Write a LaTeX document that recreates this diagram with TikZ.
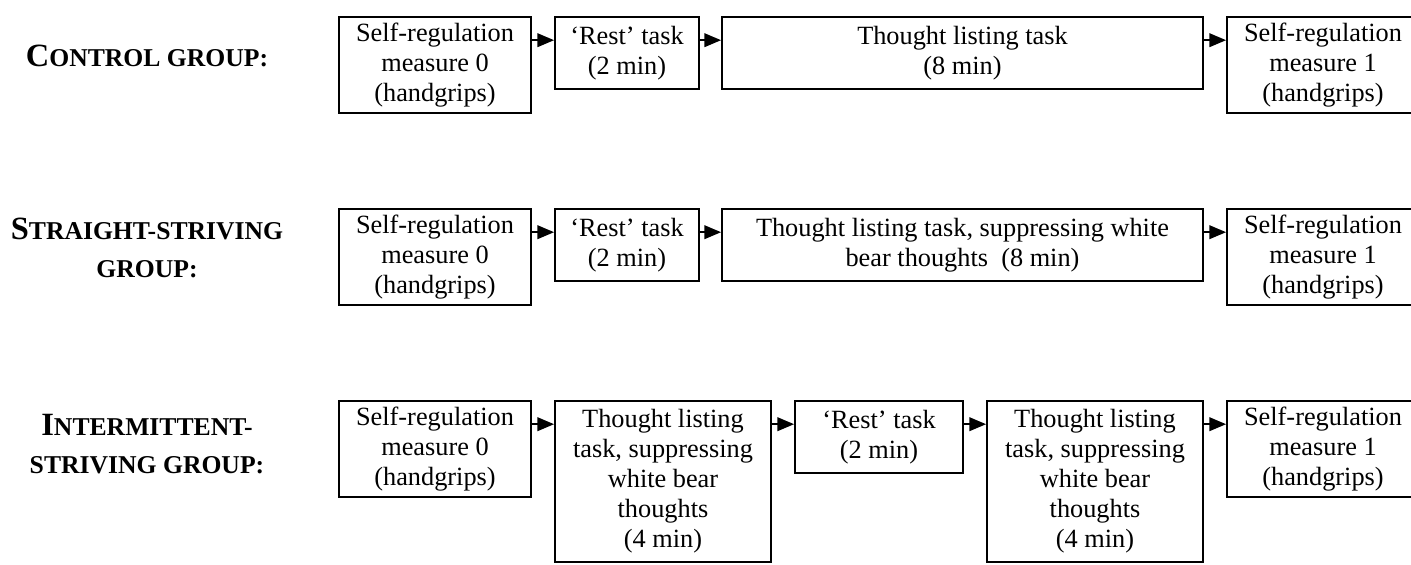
\documentclass[tikz,border=0pt]{standalone}
\usepackage{fontspec}
\setmainfont{Liberation Serif}
\usetikzlibrary{arrows.meta}
\newcommand{\lc}[1]{{\fontsize{14.8}{17.3}\selectfont #1}}
\newcommand{\bx}[6]{\node[box,minimum width={(#4-#2)*0.456pt},minimum height={(#5-#3)*0.456pt}] (#1) at ({(#2+#4)/2},{(#3+#5)/2}) {#6};}
\begin{document}
\begin{tikzpicture}[x=0.456pt,y=-0.456pt,
  box/.style={draw,line width=0.85pt,rectangle,inner sep=0pt,align=center,font=\fontsize{12}{13.7}\selectfont},
  grp/.style={inner sep=0pt,align=center,font=\fontsize{11.7}{17.3}\selectfont\bfseries},
  arr/.style={line width=0.85pt,-{Triangle[length=7.6pt,width=6.2pt]}}]
\useasboundingbox (0,0) rectangle (1411,564);
% labels
\node[grp] (l1) at (147,55.5) {\lc{C}ONTROL GROUP:};
\node[grp] (l2) at (147,247.5) {\lc{S}TRAIGHT-STRIVING\\GROUP:};
\node[grp] (l3) at (147,444.5) {\lc{I}NTERMITTENT-\\STRIVING GROUP:};
% row 1
\bx{a1}{339}{17}{531}{113}{Self-regulation\\measure 0\\(handgrips)}
\bx{b1}{555}{17}{699}{89}{‘Rest’ task\\(2 min)}
\bx{c1}{722}{17}{1203}{89}{Thought listing task\\(8 min)}
\bx{d1}{1227}{17}{1419}{113}{Self-regulation\\measure 1\\(handgrips)}
% row 2
\bx{a2}{339}{209}{531}{305}{Self-regulation\\measure 0\\(handgrips)}
\bx{b2}{555}{209}{699}{281}{‘Rest’ task\\(2 min)}
\bx{c2}{722}{209}{1203}{281}{Thought listing task, suppressing white\\bear thoughts\ \ (8 min)}
\bx{d2}{1227}{209}{1419}{305}{Self-regulation\\measure 1\\(handgrips)}
% row 3
\bx{a3}{339}{401}{531}{497}{Self-regulation\\measure 0\\(handgrips)}
\bx{b3}{555}{401}{771}{562}{Thought listing\\task, suppressing\\white bear\\thoughts\\(4 min)}
\bx{c3}{795}{401}{963}{473}{‘Rest’ task\\(2 min)}
\bx{d3}{987}{401}{1203}{562}{Thought listing\\task, suppressing\\white bear\\thoughts\\(4 min)}
\bx{e3}{1227}{401}{1419}{497}{Self-regulation\\measure 1\\(handgrips)}
% arrows
\foreach \p/\q in {a1/b1,b1/c1,c1/d1,a2/b2,b2/c2,c2/d2,a3/b3,b3/c3,c3/d3,d3/e3}
  \draw[arr] ([yshift=-11pt]\p.north east) -- ([yshift=-11pt]\q.north west);
\end{tikzpicture}
\end{document}
